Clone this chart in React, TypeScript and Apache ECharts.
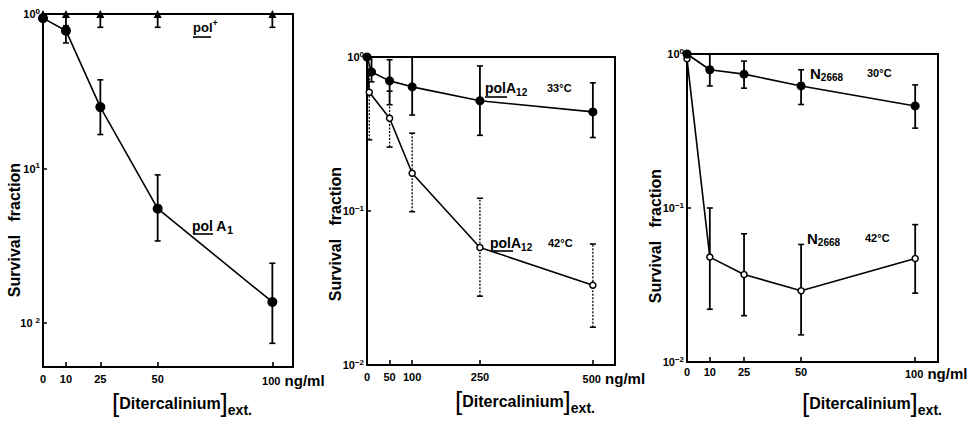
import React, { useEffect, useRef } from 'react';
import * as echarts from 'echarts';

// ---------- Panel 1 (pol+ / pol A1) ----------
const p1Ticks = [0, 10, 25, 50, 100];
const p1PlusX = [0, 10, 25, 50, 100];
const p1PlusY = [1.0, 1.0, 1.0, 1.0, 1.0];
const p1PlusErrX = [10, 25, 50, 100];
const p1PlusErrLow = [0.82, 0.82, 0.82, 0.82];
const p1PlusErrHigh = [1.0, 1.0, 1.0, 1.0];
const p1AX = [0, 10, 25, 50, 100];
const p1AY = [0.94, 0.78, 0.25, 0.055, 0.0137];
const p1AErrX = [10, 25, 50, 100];
const p1AErrLow = [0.65, 0.166, 0.034, 0.0074];
const p1AErrHigh = [0.84, 0.375, 0.091, 0.0244];

// ---------- Panel 2 (polA12 33°C / 42°C) ----------
const p2Ticks = [0, 50, 100, 250, 500];
const p2WarmX = [0, 10, 50, 100, 250, 500];
const p2WarmY = [1.0, 0.8, 0.7, 0.64, 0.52, 0.44];
const p2WarmErrX = [10, 50, 100, 250, 500];
const p2WarmErrLow = [0.69, 0.49, 0.42, 0.31, 0.3];
const p2WarmErrHigh = [1.0, 0.96, 1.0, 0.875, 0.68];
const p2HotX = [0, 5, 50, 100, 250, 500];
const p2HotY = [1.0, 0.59, 0.4, 0.176, 0.058, 0.033];
const p2HotErrX = [5, 50, 100, 250, 500];
const p2HotErrLow = [0.29, 0.26, 0.099, 0.028, 0.0176];
const p2HotErrHigh = [0.8, 0.6, 0.32, 0.121, 0.061];

// ---------- Panel 3 (N2668 30°C / 42°C) ----------
const p3Ticks = [0, 10, 25, 50, 100];
const p3WarmX = [0, 10, 25, 50, 100];
const p3WarmY = [1.0, 0.79, 0.74, 0.62, 0.46];
const p3WarmErrX = [10, 25, 50, 100];
const p3WarmErrLow = [0.62, 0.6, 0.47, 0.33];
const p3WarmErrHigh = [1.0, 0.9, 0.79, 0.63];
const p3HotX = [0, 10, 25, 50, 100];
const p3HotY = [0.93, 0.048, 0.037, 0.029, 0.047];
const p3HotErrX = [10, 25, 50, 100];
const p3HotErrLow = [0.022, 0.02, 0.015, 0.028];
const p3HotErrHigh = [0.1, 0.068, 0.058, 0.078];

// y tick label texts (as printed)
const p1YLabels: Record<string, string> = { '0': '1', '-1': '1', '-2': '2' };
const p1YPrefix: Record<string, string> = { '0': '10', '-1': '10', '-2': '10 ' };
const p23YLabels: Record<string, string> = { '0': '0', '-1': '−1', '-2': '−2' };

const FONT = 'Liberation Sans, Arial, Helvetica, sans-serif';

const zip = (xs: number[], ys: number[]) => xs.map((x, i) => [x, ys[i]]);
const zip3 = (xs: number[], a: number[], b: number[]) => xs.map((x, i) => [x, a[i], b[i]]);

function errSeries(idx: number, data: number[][], dashed: boolean) {
  return {
    type: 'custom',
    xAxisIndex: idx,
    yAxisIndex: idx,
    clip: false,
    z: 2,
    encode: { x: 0, y: [1, 2] },
    data,
    renderItem: (params: any, api: any) => {
      const x = api.value(0);
      const lo = api.coord([x, api.value(1)]);
      const hi = api.coord([x, api.value(2)]);
      const w = 3;
      const lw = dashed ? 1.3 : 1.8;
      return {
        type: 'group',
        children: [
          {
            type: 'line',
            shape: { x1: lo[0], y1: lo[1], x2: hi[0], y2: hi[1] },
            style: { stroke: '#000', lineWidth: lw, lineDash: dashed ? [2, 1.5] : null },
          },
          { type: 'line', shape: { x1: lo[0] - w, y1: lo[1], x2: lo[0] + w, y2: lo[1] }, style: { stroke: '#000', lineWidth: 1.6 } },
          { type: 'line', shape: { x1: hi[0] - w, y1: hi[1], x2: hi[0] + w, y2: hi[1] }, style: { stroke: '#000', lineWidth: 1.6 } },
        ],
      };
    },
  };
}

function lineSeries(idx: number, data: number[][], symbol: string, size: number, open: boolean) {
  return {
    type: 'line',
    xAxisIndex: idx,
    yAxisIndex: idx,
    data,
    clip: false,
    z: 3,
    symbol,
    symbolSize: size,
    showSymbol: true,
    itemStyle: open
      ? { color: '#fff', borderColor: '#000', borderWidth: 1.5 }
      : { color: '#000', borderColor: '#000', borderWidth: 0 },
    lineStyle: { color: '#000', width: 1.6 },
  };
}

function xAxis(idx: number, max: number, ticks: number[], lastLabel: number, margin: number) {
  return {
    type: 'value',
    gridIndex: idx,
    min: 0,
    max,
    splitLine: { show: false },
    axisLine: { show: true, lineStyle: { color: '#000', width: 2 } },
    axisTick: { show: true, inside: true, length: 5, lineStyle: { color: '#000', width: 1.6 }, customValues: ticks },
    axisLabel: {
      show: true,
      customValues: ticks,
      margin,
      hideOverlap: false,
      color: '#000',
      fontFamily: FONT,
      fontWeight: 'bold',
      fontSize: 11,
      formatter: (v: number) => (v === lastLabel ? '{sp|}{v|' + v + '}{u| ng/ml}' : String(v)),
      rich: {
        v: { fontFamily: FONT, fontWeight: 'bold', fontSize: 11, color: '#000' },
        u: { fontFamily: FONT, fontWeight: 'bold', fontSize: 15, color: '#000' },
        sp: { width: 42 },
      },
    },
  };
}

function yAxis(idx: number, min: number, first: boolean) {
  return {
    type: 'log',
    logBase: 10,
    gridIndex: idx,
    min,
    max: 1,
    splitLine: { show: false },
    minorTick: { show: false },
    axisLine: { show: true, lineStyle: { color: '#000', width: 2 } },
    axisTick: { show: true, inside: true, length: 4, lineStyle: { color: '#000', width: 1.5 } },
    axisLabel: {
      show: true,
      margin: 3,
      hideOverlap: false,
      showMinLabel: true,
      showMaxLabel: true,
      color: '#000',
      formatter: (v: number) => {
        const e = Math.log10(v);
        const r = Math.round(e);
        if (Math.abs(e - r) > 0.01) return '';
        const key = String(r === 0 ? 0 : r);
        if (first) return '{b|' + p1YPrefix[key] + '}{e|' + (r === 0 ? '0' : p1YLabels[key]) + '}';
        return '{b|10}{e|' + p23YLabels[key] + '}';
      },
      rich: {
        b: { fontFamily: FONT, fontWeight: 'bold', fontSize: 11, color: '#000', lineHeight: 14 },
        e: { fontFamily: FONT, fontWeight: 'bold', fontSize: 8, color: '#000', lineHeight: 6, verticalAlign: 'top' },
      },
    },
  };
}

const richBold = (size: number) => ({ fontFamily: FONT, fontWeight: 'bold', fontSize: size, fill: '#000', color: '#000' });

function label(x: number, y: number, text: string, rich: any) {
  return { type: 'text', x, y, z: 10, style: { text, rich, fill: '#000', align: 'left', verticalAlign: 'middle' } };
}
function uline(x1: number, x2: number, y: number) {
  return { type: 'line', z: 10, shape: { x1, y1: y, x2, y2: y }, style: { stroke: '#000', lineWidth: 1.6 } };
}
function yTitle(x: number, y: number) {
  return {
    type: 'text', x, y, rotation: Math.PI / 2, z: 10,
    style: { text: 'Survival   fraction', fill: '#000', fontFamily: FONT, fontWeight: 'bold', fontSize: 16, align: 'center', verticalAlign: 'middle' },
  };
}
function xTitle(x: number, y: number) {
  return {
    type: 'text', x, y, z: 10,
    style: {
      text: '{br|[}{t|Ditercalinium}{br|]}{s|ext.}',
      align: 'center', verticalAlign: 'middle', fill: '#000',
      rich: {
        br: { fontFamily: FONT, fontWeight: 'normal', fontSize: 26, fill: '#000', lineHeight: 28, verticalAlign: 'middle' },
        t: { ...richBold(16), lineHeight: 20, verticalAlign: 'middle' },
        s: { ...richBold(14), lineHeight: 13, verticalAlign: 'bottom' },
      },
    },
  };
}

const subRich = (main: number, sub: number) => ({
  b: { ...richBold(main), lineHeight: main + 4, verticalAlign: 'middle' },
  s: { ...richBold(sub), lineHeight: 5, verticalAlign: 'bottom' },
  p: { ...richBold(sub), lineHeight: 5, verticalAlign: 'top' },
});

export default function App() {
  const ref = useRef<HTMLDivElement>(null);
  useEffect(() => {
    if (!ref.current) return;
    const chart = echarts.init(ref.current, null, { renderer: 'svg' });
    const gridBase = { show: true, borderColor: '#000', borderWidth: 2, backgroundColor: 'transparent', containLabel: false, outerBoundsMode: 'none' };
    chart.setOption({
      animation: false,
      backgroundColor: '#fff',
      textStyle: { fontFamily: FONT },
      grid: [
        { ...gridBase, left: 43, top: 14, width: 250, height: 353 },
        { ...gridBase, left: 367, top: 57, width: 248, height: 308 },
        { ...gridBase, left: 687, top: 54, width: 251, height: 308 },
      ],
      xAxis: [
        xAxis(0, 109, p1Ticks, 100, 6),
        xAxis(1, 549, p2Ticks, 500, 6),
        xAxis(2, 110, p3Ticks, 100, 4),
      ],
      yAxis: [yAxis(0, 0.0052, true), yAxis(1, 0.01, false), yAxis(2, 0.01, false)],
      series: [
        errSeries(0, zip3(p1PlusErrX, p1PlusErrLow, p1PlusErrHigh), false),
        errSeries(0, zip3(p1AErrX, p1AErrLow, p1AErrHigh), false),
        lineSeries(0, zip(p1PlusX, p1PlusY), 'triangle', 8, false),
        lineSeries(0, zip(p1AX, p1AY), 'circle', 10, false),

        errSeries(1, zip3(p2HotErrX, p2HotErrLow, p2HotErrHigh), true),
        errSeries(1, zip3(p2WarmErrX, p2WarmErrLow, p2WarmErrHigh), false),
        lineSeries(1, zip(p2HotX, p2HotY), 'circle', 6, true),
        lineSeries(1, zip(p2WarmX, p2WarmY), 'circle', 9, false),

        errSeries(2, zip3(p3WarmErrX, p3WarmErrLow, p3WarmErrHigh), false),
        errSeries(2, zip3(p3HotErrX, p3HotErrLow, p3HotErrHigh), false),
        lineSeries(2, zip(p3HotX, p3HotY), 'circle', 6, true),
        lineSeries(2, zip(p3WarmX, p3WarmY), 'circle', 9, false),
      ],
      graphic: [
        yTitle(14, 230),
        yTitle(335, 234),
        yTitle(655, 236),
        xTitle(182, 403),
        xTitle(525, 401),
        xTitle(872, 403),
        label(193, 27, '{b|pol}{p|+}', subRich(13, 9)),
        uline(193, 211, 37),
        label(192, 226, '{b|pol A}{s|1}', subRich(14, 11)),
        uline(193, 213, 234),
        label(485, 88, '{b|polA}{s|12}', subRich(14, 10)),
        label(547, 88, '{b|33°C}', subRich(11, 8)),
        uline(485, 507, 97),
        label(490, 243, '{b|polA}{s|12}', subRich(14, 10)),
        label(548, 243, '{b|42°C}', subRich(11, 8)),
        uline(492, 513, 251),
        label(810, 73, '{b|N}{s|2668}', subRich(15, 10)),
        label(867, 73, '{b|30°C}', subRich(11, 8)),
        label(807, 238, '{b|N}{s|2668}', subRich(15, 10)),
        label(865, 238, '{b|42°C}', subRich(11, 8)),
      ],
    });
    return () => chart.dispose();
  }, []);
  return <div ref={ref} style={{ position: 'absolute', left: 0, top: 0, width: 980, height: 423 }} />;
}
